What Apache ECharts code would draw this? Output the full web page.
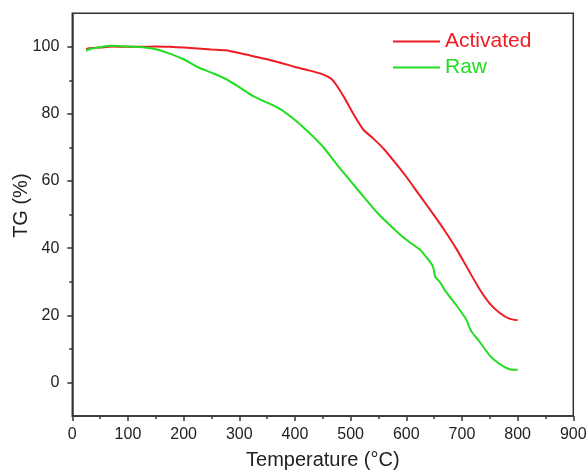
<!DOCTYPE html>
<html>
<head>
<meta charset="utf-8">
<script src="https://cdn.jsdelivr.net/npm/echarts@6/dist/echarts.min.js"></script>
<style>
html,body{margin:0;padding:0;background:#fff;}
#chart{width:587px;height:472px;}
</style>
</head>
<body>
<div id="chart"></div>
<script>
const seriesNames = ['Activated', 'Raw'];
const activatedT  = [25, 30, 50, 70, 100, 125, 150, 175, 200, 225, 250, 275, 300, 325, 350, 375, 400, 425, 450, 465, 475, 490, 505, 523, 540, 560, 580, 600, 625, 650, 670, 690, 710, 732, 750, 768, 785, 800];
const activatedTG = [99.3, 99.6, 99.8, 100.1, 100.0, 100.0, 100.1, 100.0, 99.8, 99.5, 99.2, 99.0, 98.2, 97.2, 96.3, 95.2, 94.0, 93.0, 91.8, 90.5, 88.5, 84.5, 80.0, 75.3, 72.8, 69.5, 65.5, 61.3, 55.5, 49.8, 45.0, 39.8, 34.0, 27.7, 23.5, 20.7, 19.0, 18.5];
const rawT  = [25, 30, 50, 70, 100, 130, 150, 175, 200, 225, 250, 275, 300, 325, 350, 375, 400, 425, 450, 475, 500, 525, 550, 575, 600, 625, 640, 648, 652, 660, 670, 690, 708, 712, 717, 730, 750, 765, 780, 790, 800];
const rawTG = [98.8, 99.3, 99.9, 100.3, 100.1, 99.8, 99.3, 98.0, 96.3, 94.0, 92.3, 90.5, 88.0, 85.3, 83.4, 81.3, 78.2, 74.5, 70.3, 65.0, 60.0, 55.0, 50.2, 46.2, 42.5, 39.5, 36.5, 34.5, 31.5, 30.0, 27.3, 23.0, 18.7, 17.0, 15.2, 12.5, 8.0, 5.8, 4.3, 3.8, 3.8];
const yMajorTicks = [0, 20, 40, 60, 80, 100];
const yMinorTicks = [10, 30, 50, 70, 90];
const colors = ['#ee1c24', '#22dd22'];

const pairs = (xs, ys) => xs.map((x, i) => [x, ys[i]]);

const chart = echarts.init(document.getElementById('chart'), null, {renderer: 'canvas'});
const axisColor = '#333';
const fontFam = 'Liberation Sans, Arial, sans-serif';
const labelStyle = {color: '#222', fontSize: 16, fontFamily: fontFam};

chart.setOption({
  animation: false,
  backgroundColor: '#fff',
  grid: {left: 72.3, right: 13.7, top: 13.3, bottom: 56, containLabel: false, outerBoundsMode: 'none',
         show: true, borderColor: axisColor, borderWidth: 1.5, backgroundColor: 'transparent'},
  legend: {
    left: 393, top: 31, padding: 0, orient: 'vertical', itemGap: 5,
    icon: 'rect', itemWidth: 47, itemHeight: 2,
    textStyle: {fontSize: 21, fontFamily: fontFam},
    data: [
      {name: seriesNames[0], textStyle: {color: colors[0]}},
      {name: seriesNames[1], textStyle: {color: colors[1]}}
    ]
  },
  xAxis: {
    type: 'value', min: 0, max: 900, interval: 100,
    name: 'Temperature (°C)', nameLocation: 'middle', nameGap: 34, nameMoveOverlap: false,
    nameTextStyle: {fontSize: 20, color: '#222', fontFamily: fontFam},
    axisLine: {show: true, onZero: false, lineStyle: {color: axisColor, width: 1.5}},
    axisTick: {show: true, length: 5, lineStyle: {color: axisColor, width: 1.5}},
    minorTick: {show: true, splitNumber: 2, length: 3, lineStyle: {color: axisColor, width: 1.5}},
    axisLabel: Object.assign({margin: 11}, labelStyle),
    splitLine: {show: false}
  },
  yAxis: [{
    type: 'value', min: -10, max: 110,
    name: 'TG (%)', nameLocation: 'middle', nameGap: 41, nameMoveOverlap: false,
    nameTextStyle: {fontSize: 20, color: '#222', fontFamily: fontFam, padding: [0, 0, 0, 18]},
    axisLine: {show: true, onZero: false, lineStyle: {color: axisColor, width: 1.5}},
    axisTick: {show: true, length: 5, customValues: yMajorTicks, lineStyle: {color: axisColor, width: 1.5}},
    axisLabel: Object.assign({margin: 13, customValues: yMajorTicks}, labelStyle),
    splitLine: {show: false}
  }, {
    type: 'value', min: -10, max: 110, position: 'left',
    axisLine: {show: false, onZero: false},
    axisTick: {show: true, length: 3, customValues: yMinorTicks, lineStyle: {color: axisColor, width: 1.5}},
    axisLabel: {show: false},
    splitLine: {show: false}
  }],
  series: [
    {name: seriesNames[0], type: 'line', data: pairs(activatedT, activatedTG), symbol: 'none', smooth: 0.2,
     lineStyle: {color: colors[0], width: 2}, itemStyle: {color: colors[0]}},
    {name: seriesNames[1], type: 'line', data: pairs(rawT, rawTG), symbol: 'none', smooth: 0.2,
     lineStyle: {color: colors[1], width: 2}, itemStyle: {color: colors[1]}}
  ]
});
</script>
</body>
</html>
